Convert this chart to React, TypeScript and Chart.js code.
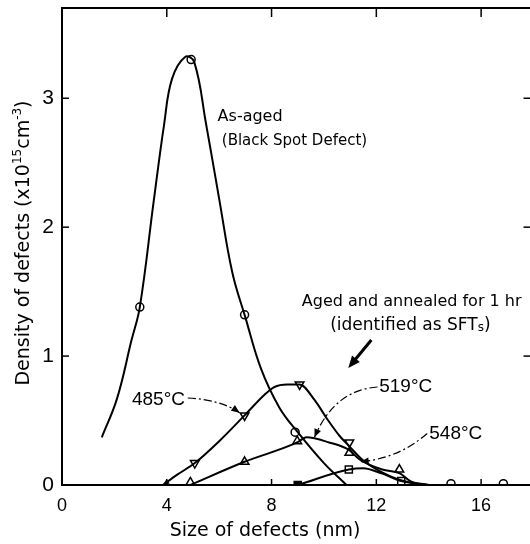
import { useEffect, useRef } from "react";
import { Chart, registerables } from "chart.js";
Chart.register(...registerables);

// ---- data ----
const xTicks = [0, 4, 8, 12, 16];
const yTicks = [0, 1, 2, 3];
const frameTicksX = [4, 8, 12, 16];
const frameTicksY = [1, 2, 3];

// As-aged (Black Spot Defect) – smooth curve and circle markers
const asAgedCurveX = [1.52, 2.1, 2.65, 2.97, 3.5, 3.9, 4.2, 4.7, 5.05, 5.5, 6.0, 6.5, 7.0, 7.6, 8.3, 9.0, 10.0, 10.86];
const asAgedCurveY = [0.37, 0.67, 1.12, 1.38, 2.2, 2.8, 3.15, 3.32, 3.28, 2.8, 2.22, 1.65, 1.3, 0.9, 0.6, 0.41, 0.17, 0.0];
const asAgedMarkX = [2.97, 4.93, 6.97, 8.9, 14.85, 16.85];
const asAgedMarkY = [1.38, 3.3, 1.32, 0.41, 0.01, 0.01];

// 485 °C – down triangles
const c485CurveX = [3.85, 4.4, 5.07, 6.0, 6.97, 7.73, 8.1, 8.6, 9.07, 9.64, 10.13, 10.6, 10.97, 11.5, 12.2, 12.9, 13.8];
const c485CurveY = [0.0, 0.08, 0.17, 0.34, 0.54, 0.7, 0.76, 0.78, 0.78, 0.66, 0.51, 0.38, 0.3, 0.19, 0.1, 0.04, 0.0];
const c485MarkX = [5.07, 6.97, 9.07, 10.97];
const c485MarkY = [0.17, 0.54, 0.78, 0.33];

// 519 °C – up triangles
const c519CurveX = [4.9, 6.97, 8.98, 9.33, 10.2, 10.97, 11.35, 12.23, 12.9, 13.3, 14.0];
const c519CurveY = [0.0, 0.18, 0.33, 0.37, 0.33, 0.27, 0.2, 0.12, 0.09, 0.03, 0.0];
const c519MarkX = [4.9, 6.97, 8.98, 10.97, 12.88];
const c519MarkY = [0.02, 0.18, 0.34, 0.25, 0.12];

// 548 °C – squares
const c548CurveX = [9.0, 10.95, 11.5, 12.2, 12.95, 14.0];
const c548CurveY = [0.0, 0.12, 0.13, 0.09, 0.03, 0.0];
const c548MarkX = [9.0, 10.95, 12.95];
const c548MarkY = [0.0, 0.12, 0.03];
const c548MarkFilled = [true, false, false];

const pts = (xs: number[], ys: number[]) => xs.map((x, i) => ({ x, y: ys[i] }));

const TXT = "'DejaVu Sans', sans-serif";
const NUM = "'Liberation Sans', Arial, sans-serif";

function arrowHead(ctx: CanvasRenderingContext2D, fx: number, fy: number, tx: number, ty: number, size: number) {
  const ang = Math.atan2(ty - fy, tx - fx);
  ctx.beginPath();
  ctx.moveTo(tx, ty);
  ctx.lineTo(tx - size * Math.cos(ang - 0.4), ty - size * Math.sin(ang - 0.4));
  ctx.lineTo(tx - size * Math.cos(ang + 0.4), ty - size * Math.sin(ang + 0.4));
  ctx.closePath();
  ctx.fill();
}

const decorPlugin = {
  id: "decor",
  afterDatasetsDraw(chart: any) {
    const { ctx, chartArea: a, scales } = chart;
    const xs = scales.x, ys = scales.y;
    const X = (v: number) => xs.getPixelForValue(v);
    const Y = (v: number) => ys.getPixelForValue(v);
    ctx.save();
    ctx.strokeStyle = "#000";
    ctx.fillStyle = "#000";
    // frame
    ctx.lineWidth = 2;
    ctx.strokeRect(a.left, a.top, a.right - a.left, a.bottom - a.top);
    ctx.lineWidth = 1.5;
    const seg = (x1: number, y1: number, x2: number, y2: number) => {
      ctx.beginPath(); ctx.moveTo(x1, y1); ctx.lineTo(x2, y2); ctx.stroke();
    };
    for (const v of frameTicksX) {
      const px = X(v);
      seg(px, a.bottom, px, a.bottom - 6);
      seg(px, a.top, px, a.top + 9);
    }
    for (const v of frameTicksY) {
      const py = Y(v);
      seg(a.left, py, a.left + 7, py);
      seg(a.right, py, a.right - 10, py);
    }

    // small arrow at start of 485 curve
    arrowHead(ctx, X(4.4), Y(0.08), X(3.85), Y(0.0), 7);

    // leaders (dash-dot) with arrowheads
    const leaders = [
      { s: [4.8, 0.675], c: [6.1, 0.66], e: [6.78, 0.56] },
      { s: [12.04, 0.76], c: [10.4, 0.737], e: [9.64, 0.37] },
      { s: [13.94, 0.4], c: [12.86, 0.206], e: [11.39, 0.18] },
    ];
    ctx.lineWidth = 1.2;
    for (const l of leaders) {
      ctx.setLineDash([8, 3, 2, 3]);
      ctx.beginPath();
      ctx.moveTo(X(l.s[0]), Y(l.s[1]));
      ctx.quadraticCurveTo(X(l.c[0]), Y(l.c[1]), X(l.e[0]), Y(l.e[1]));
      ctx.stroke();
      ctx.setLineDash([]);
      arrowHead(ctx, X(l.c[0]), Y(l.c[1]), X(l.e[0]), Y(l.e[1]), 9);
    }

    // big arrow
    ctx.lineWidth = 3;
    const bx1 = X(11.81), by1 = Y(1.125), bx2 = X(10.93), by2 = Y(0.908);
    const ang = Math.atan2(by2 - by1, bx2 - bx1);
    seg(bx1, by1, bx2 - 8 * Math.cos(ang), by2 - 8 * Math.sin(ang));
    arrowHead(ctx, bx1, by1, bx2, by2, 13);

    // texts
    ctx.textBaseline = "middle";
    ctx.textAlign = "left";
    ctx.font = `16px ${TXT}`;
    ctx.fillText("As-aged", X(5.94), Y(2.855));
    ctx.font = `15px ${TXT}`;
    ctx.fillText("(Black Spot Defect)", X(6.1), Y(2.67));
    ctx.textAlign = "center";
    ctx.font = `16px ${TXT}`;
    ctx.fillText("Aged and annealed for 1 hr", X(13.35), Y(1.42));
    // (identified as SFTs) with subscript
    {
      ctx.font = `17px ${TXT}`;
      const p1 = "(identified as SFT";
      const w1 = ctx.measureText(p1).width;
      ctx.font = `12px ${TXT}`;
      const w2 = ctx.measureText("s").width;
      ctx.font = `17px ${TXT}`;
      const w3 = ctx.measureText(")").width;
      const total = w1 + w2 + w3;
      let cx = X(13.3) - total / 2;
      const cy = Y(1.24);
      ctx.textAlign = "left";
      ctx.fillText(p1, cx, cy);
      cx += w1;
      ctx.font = `12px ${TXT}`;
      ctx.fillText("s", cx, cy + 3);
      cx += w2;
      ctx.font = `17px ${TXT}`;
      ctx.fillText(")", cx, cy);
    }
    ctx.textAlign = "left";
    ctx.font = `19px ${NUM}`;
    ctx.fillText("485°C", X(2.67), Y(0.66));
    ctx.fillText("519°C", X(12.11), Y(0.76));
    ctx.fillText("548°C", X(14.02), Y(0.395));

    // axis titles
    ctx.font = `19px ${TXT}`;
    ctx.textAlign = "center";
    ctx.fillText("Size of defects (nm)", 265, 531);

    ctx.translate(24, 243);
    ctx.rotate(-Math.PI / 2);
    const parts: [string, number, number][] = [
      ["Density of defects (x10", 19, 0],
      ["15", 12, -6],
      ["cm", 19, 0],
      ["-3", 12, -6],
      [")", 19, 0],
    ];
    let tw = 0;
    for (const [t, s] of parts) { ctx.font = `${s}px ${TXT}`; tw += ctx.measureText(t).width; }
    let px = -tw / 2;
    ctx.textAlign = "left";
    for (const [t, s, dy] of parts) {
      ctx.font = `${s}px ${TXT}`;
      ctx.fillText(t, px, dy);
      px += ctx.measureText(t).width;
    }
    ctx.restore();
  },
};

const curve = (xs: number[], ys: number[], monotone = true) => ({
  data: pts(xs, ys),
  showLine: true,
  borderColor: "#000",
  borderWidth: 2,
  pointRadius: 0,
  tension: 0.4,
  cubicInterpolationMode: monotone ? ("monotone" as const) : ("default" as const),
});

const markers = (xs: number[], ys: number[], style: string, radius: number, rotation = 0, fill: any = "#fff") => ({
  data: pts(xs, ys),
  showLine: false,
  pointStyle: style,
  pointRadius: radius,
  pointRotation: rotation,
  pointBackgroundColor: fill,
  pointBorderColor: "#000",
  pointBorderWidth: 1.5,
});

export default function App() {
  const ref = useRef<HTMLCanvasElement>(null);
  useEffect(() => {
    if (!ref.current) return;
    const chart = new Chart(ref.current, {
      type: "scatter",
      data: {
        datasets: [
          curve(asAgedCurveX, asAgedCurveY, false),
          curve(c485CurveX, c485CurveY),
          curve(c519CurveX, c519CurveY),
          curve(c548CurveX, c548CurveY),
          markers(asAgedMarkX, asAgedMarkY, "circle", 4),
          markers(c485MarkX, c485MarkY, "triangle", 5, 180),
          markers(c519MarkX, c519MarkY, "triangle", 5),
          markers(c548MarkX, c548MarkY, "rect", 5, 0, c548MarkFilled.map((f) => (f ? "#000" : "#fff"))),
        ] as any,
      },
      options: {
        animation: false,
        responsive: false,
        events: [],
        layout: { padding: { top: 8, right: 5.5, left: 0, bottom: 0 } },
        plugins: { legend: { display: false }, tooltip: { enabled: false } },
        scales: {
          x: {
            type: "linear",
            min: 0,
            max: 18,
            grid: { display: false, drawTicks: false },
            border: { display: false },
            afterBuildTicks: (s: any) => { s.ticks = xTicks.map((v) => ({ value: v })); },
            afterFit: (s: any) => { s.height = 59; s.paddingLeft = 0; s.paddingRight = 0; },
            ticks: { color: "#000", font: { family: NUM, size: 18 }, padding: 10, maxRotation: 0, autoSkip: false },
          },
          y: {
            type: "linear",
            min: 0,
            max: 3.7,
            grid: { display: false, drawTicks: false },
            border: { display: false },
            afterBuildTicks: (s: any) => { s.ticks = yTicks.map((v) => ({ value: v })); },
            afterFit: (s: any) => { s.width = 62; s.paddingTop = 0; s.paddingBottom = 0; },
            ticks: { color: "#000", font: { family: NUM, size: 21 }, padding: 8, autoSkip: false },
          },
        },
      },
      plugins: [decorPlugin],
    });
    return () => chart.destroy();
  }, []);
  return (
    <div style={{ position: "fixed", left: 0, top: 0, width: 530, height: 544, overflow: "hidden", background: "#fff" }}>
      <canvas ref={ref} width={540} height={544} style={{ display: "block", width: 540, height: 544 }} />
    </div>
  );
}
